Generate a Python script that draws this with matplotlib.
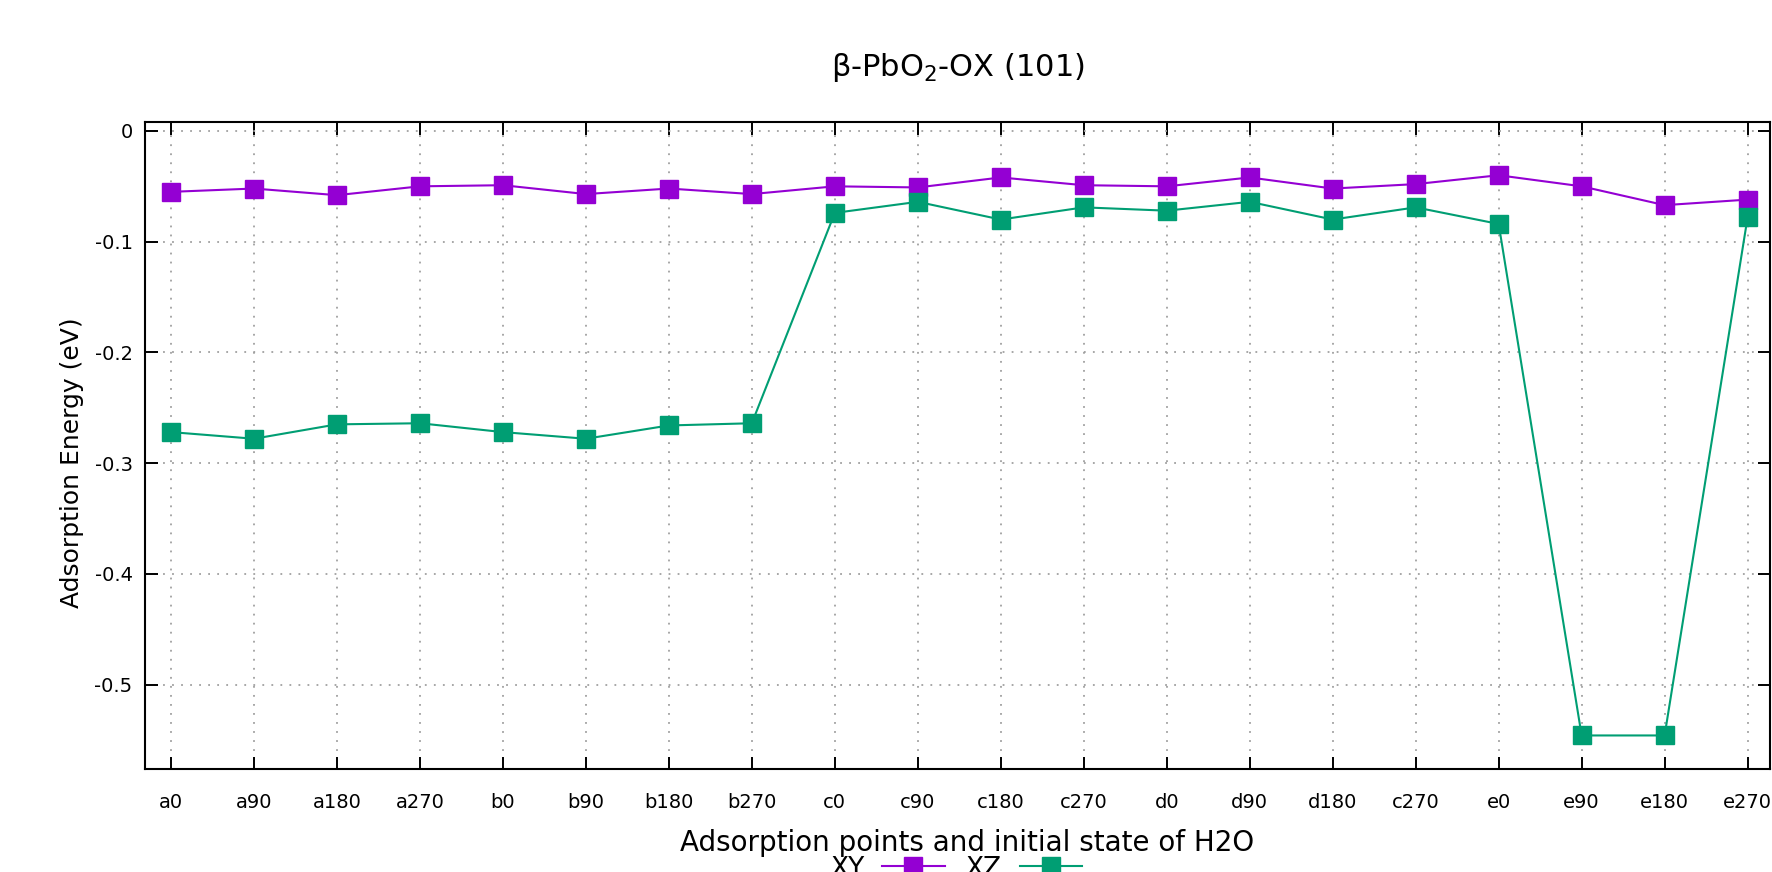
import matplotlib
matplotlib.use("Agg")
import matplotlib.pyplot as plt
from matplotlib.ticker import FuncFormatter

# data
sites = ['a0', 'a90', 'a180', 'a270', 'b0', 'b90', 'b180', 'b270',
         'c0', 'c90', 'c180', 'c270', 'd0', 'd90', 'd180', 'c270',
         'e0', 'e90', 'e180', 'e270']
xy = [-0.055, -0.052, -0.058, -0.050, -0.049, -0.057, -0.052, -0.057,
      -0.050, -0.051, -0.042, -0.049, -0.050, -0.042, -0.052, -0.048,
      -0.040, -0.050, -0.067, -0.062]
xz = [-0.272, -0.278, -0.265, -0.264, -0.272, -0.278, -0.266, -0.264,
      -0.074, -0.064, -0.080, -0.069, -0.072, -0.064, -0.080, -0.069,
      -0.084, -0.546, -0.546, -0.078]
yticks = [0, -0.1, -0.2, -0.3, -0.4, -0.5]

plt.rcParams['font.family'] = ['DejaVu Sans']
plt.rcParams['axes.unicode_minus'] = False

fig = plt.figure(figsize=(17.72, 8.72), dpi=100)
ax = fig.add_axes([145 / 1772, 1 - 769 / 872, 1625 / 1772, 647 / 872])

x = list(range(len(sites)))
ax.plot(x, xy, color='#9400D3', lw=1.5, marker='s', ms=13.5, label='XY', zorder=3)
ax.plot(x, xz, color='#009E73', lw=1.5, marker='s', ms=13.5, label='XZ', zorder=3)

ax.set_xlim(-0.313, 19.27)
ax.set_ylim(-0.5763, 0.0081)
ax.set_xticks(x)
ax.set_xticklabels(sites)
ax.set_yticks(yticks)
ax.yaxis.set_major_formatter(FuncFormatter(lambda v, p: '%g' % v))

ax.tick_params(direction='in', length=9, width=1.4, top=True, right=True,
               labelsize=14)
ax.tick_params(axis='x', pad=17)
ax.tick_params(axis='y', pad=9)
for s in ax.spines.values():
    s.set_linewidth(1.5)

ax.grid(True, color='#a0a0a0', linestyle=(0, (1, 4)), linewidth=1.3)

ax.set_xlabel('Adsorption points and initial state of H2O', fontsize=20)
ax.xaxis.set_label_coords(0.506, -0.114)
ax.xaxis.label.set_va('center')
ax.set_ylabel('Adsorption Energy (eV)', fontsize=18)
ax.yaxis.set_label_coords(-0.045, 0.473)
ax.yaxis.label.set_va('center')

fig.text(958 / 1772, 1 - 67 / 872, r'β-PbO$_2$-OX (101)', fontsize=22,
         ha='center', va='center')

fig.legend(loc='center', bbox_to_anchor=(956 / 1772, 0.004), ncol=2,
           frameon=False, fontsize=19, markerfirst=False, handlelength=2.35,
           columnspacing=0.8, handletextpad=0.7)

fig.savefig('out.png', dpi=100)
